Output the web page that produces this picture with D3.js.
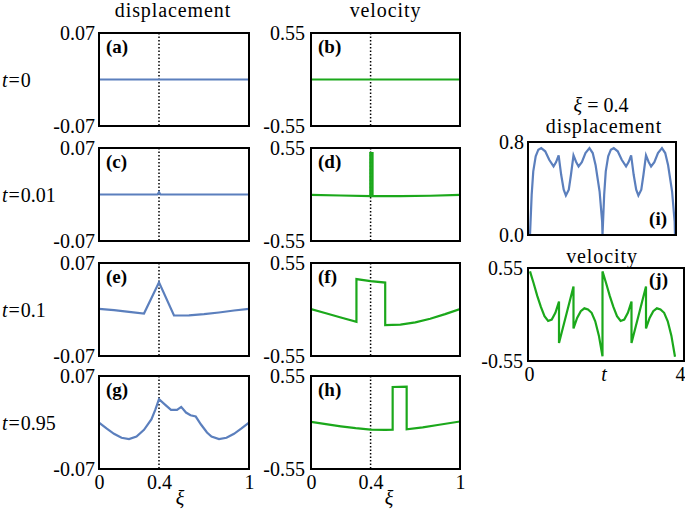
<!DOCTYPE html>
<html><head><meta charset="utf-8">
<script src="https://cdn.jsdelivr.net/npm/d3@7/dist/d3.min.js"></script>
<style>
body{margin:0;background:#fff}
svg{display:block}
svg text{font-family:"Liberation Serif","DejaVu Serif","Noto Serif",Times,serif !important;fill:#000}
</style>
</head><body>
<svg id="c" width="685" height="509"></svg>
<script>
// ---------------- data ----------------
const rowLabels = ["0", "0.01", "0.1", "0.95"];
const colTitles = ["displacement", "velocity"];
const panelLetters = ["(a)", "(b)", "(c)", "(d)", "(e)", "(f)", "(g)", "(h)"];
const dispTicks = [-0.07, 0.07], dispTickLabels = ["-0.07", "0.07"];
const velTicks = [-0.55, 0.55], velTickLabels = ["-0.55", "0.55"];
const xiTicks = [0, 0.4, 1], xiTickLabels = ["0", "0.4", "1"];
const xiMark = 0.4;

const xiA = [0, 1];
const dispA = [0, 0];
const xiB = [0, 1];
const velB = [0, 0];
const xiC = [0, 0.39, 0.4, 0.41, 1];
const dispC = [0, 0, 0.0035, 0, 0];
const xiD = [0, 0.2, 0.398, 0.398, 0.413, 0.413, 0.6, 0.8, 1];
const velD = [-0.005, -0.012, -0.02, 0.49, 0.49, -0.02, -0.02, -0.015, -0.005];
const xiE = [0, 0.1, 0.2, 0.3, 0.4, 0.5, 0.6, 0.7, 0.8, 0.9, 1];
const dispE = [0.001, -0.001, -0.0035, -0.006, 0.041, -0.009, -0.0088, -0.007, -0.0045, -0.0015, 0.001];
const xiF = [0, 0.1, 0.2, 0.305, 0.305, 0.4, 0.498, 0.498, 0.6, 0.7, 0.8, 0.9, 1];
const velF = [0.005, -0.045, -0.095, -0.145, 0.36, 0.335, 0.318, -0.185, -0.178, -0.152, -0.11, -0.055, 0.005];
const xiG = [0, 0.05, 0.1, 0.15, 0.2, 0.25, 0.3, 0.35, 0.375, 0.4, 0.44, 0.48, 0.52, 0.548, 0.58, 0.61, 0.645, 0.68, 0.72, 0.75, 0.8, 0.85, 0.9, 0.95, 1];
const dispG = [0, -0.009, -0.017, -0.023, -0.025, -0.021, -0.011, 0.005, 0.019, 0.035, 0.027, 0.019, 0.019, 0.0235, 0.015, 0.011, 0.009, -0.003, -0.015, -0.021, -0.025, -0.023, -0.017, -0.009, 0];
const xiH = [0, 0.1, 0.2, 0.3, 0.4, 0.5, 0.548, 0.548, 0.642, 0.642, 0.75, 0.85, 1];
const velH = [0.008, -0.02, -0.045, -0.067, -0.085, -0.087, -0.085, 0.42, 0.424, -0.081, -0.058, -0.03, 0.012];

const tI = [0, 0.046, 0.09, 0.157, 0.23, 0.31, 0.42, 0.53, 0.65, 0.72, 0.79, 0.86, 0.93, 0.99, 1.07, 1.13, 1.2, 1.27, 1.34, 1.43, 1.53, 1.64, 1.73, 1.81, 1.92, 1.99, 2.0,
            2.046, 2.09, 2.157, 2.23, 2.31, 2.42, 2.53, 2.65, 2.72, 2.79, 2.86, 2.93, 2.99, 3.07, 3.13, 3.2, 3.27, 3.34, 3.43, 3.53, 3.64, 3.73, 3.81, 3.92, 3.99, 4.0];
const dispI = [0, 0.345, 0.547, 0.676, 0.734, 0.748, 0.72, 0.647, 0.59, 0.627, 0.685, 0.518, 0.39, 0.34, 0.39, 0.518, 0.685, 0.63, 0.59, 0.627, 0.705, 0.748, 0.705, 0.60, 0.374, 0.115, 0,
               0.345, 0.547, 0.676, 0.734, 0.748, 0.72, 0.647, 0.59, 0.627, 0.685, 0.518, 0.39, 0.34, 0.39, 0.518, 0.685, 0.63, 0.59, 0.627, 0.705, 0.748, 0.705, 0.60, 0.374, 0.115, 0];
const tJ = [0, 0.1, 0.2, 0.3, 0.4, 0.5, 0.6, 0.7, 0.8, 0.8, 1.2, 1.2, 1.3, 1.4, 1.5, 1.6, 1.7, 1.8, 1.9, 2.0,
            2.0, 2.1, 2.2, 2.3, 2.4, 2.5, 2.6, 2.7, 2.8, 2.8, 3.2, 3.2, 3.3, 3.4, 3.5, 3.6, 3.7, 3.8, 3.9, 4.0];
const velJ = [0.51, 0.37, 0.22, 0.09, -0.02, -0.077, -0.06, 0.02, 0.153, -0.336, 0.33, -0.165, -0.04, 0.04, 0.073, 0.06, 0.02, -0.08, -0.25, -0.494,
              0.51, 0.37, 0.22, 0.09, -0.02, -0.077, -0.06, 0.02, 0.153, -0.336, 0.33, -0.165, -0.04, 0.04, 0.073, 0.06, 0.02, -0.08, -0.25, -0.5];
const tTicks = [0, 4], tTickLabels = ["0", "4"];
const dispITicks = [0, 0.8], dispITickLabels = ["0.0", "0.8"];

// ---------------- drawing ----------------
const BLUE = "#5b7fbd", GREEN = "#1ba81b";
const FONT = '"Liberation Serif","DejaVu Serif","Noto Serif",Times,serif';
const FS = 20;
const svg = d3.select("#c");
let clipId = 0;

function drawPanel(o) {
  const x = d3.scaleLinear().domain(o.xdom).range(o.xr);
  const y = d3.scaleLinear().domain(o.ydom).range([o.by1, o.by0]);
  const g = svg.append("g");
  const id = "clip" + (clipId++);
  g.append("clipPath").attr("id", id).append("rect")
    .attr("x", o.bx0).attr("y", o.by0).attr("width", o.bx1 - o.bx0).attr("height", o.by1 - o.by0);
  if (o.mark !== undefined) {
    g.append("line").attr("x1", x(o.mark)).attr("x2", x(o.mark))
      .attr("y1", o.by0).attr("y2", o.by1)
      .attr("stroke", "#000").attr("stroke-width", 1.5).attr("stroke-dasharray", "1.5,2");
  }
  const pts = o.xs.map((v, i) => [v, o.ys[i]]);
  g.append("path").attr("clip-path", `url(#${id})`)
    .attr("d", d3.line().x(d => x(d[0])).y(d => y(d[1]))(pts))
    .attr("fill", "none").attr("stroke", o.color).attr("stroke-width", 2.2)
    .attr("stroke-linejoin", "miter");
  g.append("rect").attr("x", o.bx0).attr("y", o.by0)
    .attr("width", o.bx1 - o.bx0).attr("height", o.by1 - o.by0)
    .attr("fill", "none").attr("stroke", "#000").attr("stroke-width", 2);
  const ya = d3.axisLeft(y).tickValues(o.yticks).tickSize(0).tickPadding(o.ypad)
    .tickFormat((d, i) => o.ylabels[i]);
  const yg = g.append("g").attr("transform", `translate(${o.bx0},0)`).call(ya)
    .attr("font-family", FONT).attr("font-size", FS);
  yg.select(".domain").remove();
  if (o.xticks) {
    const xsc = o.xAxisScale || x;
    const xa = d3.axisBottom(xsc).tickValues(o.xticks).tickSize(0).tickPadding(6)
      .tickFormat((d, i) => o.xlabels[i]);
    const xg = g.append("g").attr("transform", `translate(0,${o.by1})`).call(xa)
      .attr("font-family", FONT).attr("font-size", FS);
    xg.select(".domain").remove();
  }
  if (o.letter) {
    g.append("text").attr("x", o.lx).attr("y", o.ly).attr("text-anchor", o.lanchor || "start")
      .attr("font-family", FONT).attr("font-size", 19).attr("font-weight", "bold").text(o.letter);
  }
  return {x, y};
}

const colX = [[99, 249], [311, 460]];
const rowTop = [33, 148, 263, 376];
const PH = 93;
const leftData = [[xiA, dispA], [xiC, dispC], [xiE, dispE], [xiG, dispG]];
const rightData = [[xiB, velB], [xiD, velD], [xiF, velF], [xiH, velH]];

for (let r = 0; r < 4; r++) {
  for (let c = 0; c < 2; c++) {
    const [bx0, bx1] = colX[c];
    const by0 = rowTop[r], by1 = rowTop[r] + PH;
    const dat = c === 0 ? leftData[r] : rightData[r];
    drawPanel({
      bx0, bx1, by0, by1, xr: [bx0, bx1], xdom: [0, 1],
      ydom: c === 0 ? [-0.07, 0.07] : [-0.55, 0.55],
      xs: dat[0], ys: dat[1], color: c === 0 ? BLUE : GREEN,
      yticks: c === 0 ? dispTicks : velTicks,
      ylabels: c === 0 ? dispTickLabels : velTickLabels,
      ypad: c === 0 ? 4 : 6,
      mark: xiMark,
      xticks: r === 3 ? xiTicks : null, xlabels: xiTickLabels,
      letter: panelLetters[r * 2 + c], lx: bx0 + 7, ly: by0 + 20
    });
  }
  const t = svg.append("text").attr("x", 2).attr("y", rowTop[r] + PH / 2 + 7)
    .attr("font-family", FONT).attr("font-size", FS);
  t.append("tspan").attr("font-style", "italic").text("t");
  t.append("tspan").attr("dx", 1).text("=");
  t.append("tspan").attr("dx", 1).text(rowLabels[r]);
}
colTitles.forEach((s, c) => {
  svg.append("text").attr("x", (colX[c][0] + colX[c][1]) / 2 + (c === 0 ? -1 : 0)).attr("y", 17)
    .attr("text-anchor", "middle").attr("font-family", FONT).attr("font-size", FS)
    .attr("letter-spacing", 0.9).text(s);
});
[180, 389].forEach(xp => {
  svg.append("text").attr("x", xp).attr("y", 505).attr("text-anchor", "middle")
    .attr("font-family", FONT).attr("font-size", FS).attr("font-style", "italic").text("ξ");
});

drawPanel({
  bx0: 528, bx1: 676, by0: 142, by1: 235, xr: [530, 675], xdom: [0, 4],
  ydom: [0, 0.8], xs: tI, ys: dispI, color: BLUE,
  yticks: dispITicks, ylabels: dispITickLabels, ypad: 4,
  letter: "(i)", lx: 667, ly: 225, lanchor: "end"
});
drawPanel({
  bx0: 528, bx1: 684, by0: 268, by1: 361, xr: [530, 675], xdom: [0, 4],
  ydom: [-0.55, 0.55], xs: tJ, ys: velJ, color: GREEN,
  yticks: velTicks, ylabels: velTickLabels, ypad: 5,
  xticks: tTicks, xlabels: tTickLabels,
  xAxisScale: d3.scaleLinear().domain([0, 4]).range([529, 680]),
  letter: "(j)", lx: 668, ly: 286, lanchor: "end"
});
const xt = svg.append("text").attr("x", 601).attr("y", 112).attr("text-anchor", "middle")
  .attr("font-family", FONT).attr("font-size", FS);
xt.append("tspan").attr("font-style", "italic").text("ξ");
xt.append("tspan").text(" = 0.4");
svg.append("text").attr("x", 604).attr("y", 133).attr("text-anchor", "middle").attr("font-family", FONT).attr("font-size", FS).attr("letter-spacing", 0.9).text("displacement");
svg.append("text").attr("x", 602).attr("y", 263).attr("text-anchor", "middle").attr("font-family", FONT).attr("font-size", FS).attr("letter-spacing", 0.9).text("velocity");
svg.append("text").attr("x", 604).attr("y", 381).attr("text-anchor", "middle").attr("font-family", FONT).attr("font-size", FS).attr("font-style", "italic").text("t");
</script>
</body></html>
